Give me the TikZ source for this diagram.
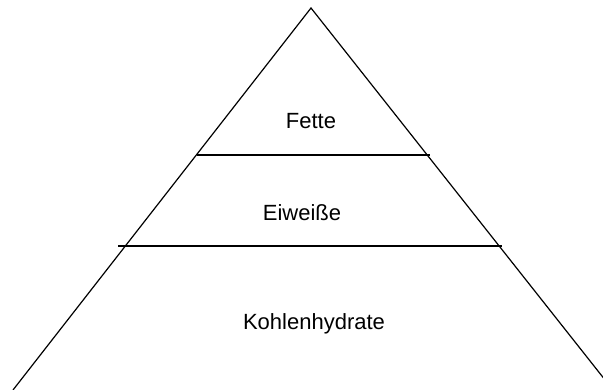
\documentclass[tikz,border=0pt]{standalone}
\usepackage{fontspec}
\setmainfont{Liberation Sans}
\usetikzlibrary{positioning}

\begin{document}
\begin{tikzpicture}[x=1pt,y=-1pt,line width=1.2pt,
  lvl/.style={anchor=base,inner sep=0pt,font=\fontsize{22}{26}\selectfont}]
\useasboundingbox (0,0) rectangle (603,390);
\coordinate (top) at (311,8);
\coordinate (lfoot) at (13,390);
\coordinate (rfoot) at (613,390);
\coordinate (s1l) at (197,155);
\coordinate (s1r) at (430,155);
\coordinate (s2l) at (118,246);
\coordinate (s2r) at (502,246);
\draw (lfoot)--(top)--(rfoot);
\draw (s1l)--(s1r);
\draw (s2l)--(s2r);
\node[lvl] (fette) at (311,129) {Fette};
\node[lvl] (eiweiss) at (302,221) {Eiweiße};
\node[lvl] (kohlen) at (314,330) {Kohlenhydrate};
\end{tikzpicture}
\end{document}
